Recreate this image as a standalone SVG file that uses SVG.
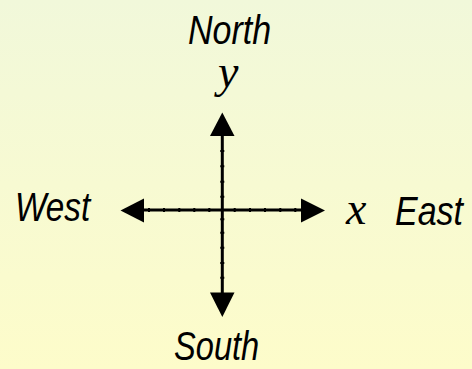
<svg xmlns="http://www.w3.org/2000/svg" width="472" height="369" viewBox="0 0 472 369">
<defs>
<linearGradient id="bg" x1="0" y1="0" x2="0" y2="1">
<stop offset="0" stop-color="#f1f8da"/>
<stop offset="1" stop-color="#fdfcca"/>
</linearGradient>
<style>
.lbl{font-family:"Liberation Sans",Arial,sans-serif;font-style:italic;font-size:34px;fill:#000}
.var{font-family:"Liberation Serif","Times New Roman",serif;font-style:italic;font-size:46px;fill:#000}
.axis{stroke:#000;stroke-width:3;fill:none}
.tick{stroke:#000;stroke-width:2;fill:none}
.head{fill:#000}
</style>
</defs>
<rect x="0" y="0" width="472" height="369" fill="url(#bg)"/>
<g id="connectors">
<line class="axis" x1="144" y1="210" x2="302" y2="210"/>
<line class="axis" x1="222.3" y1="135" x2="222.3" y2="293"/>
<path class="tick" d="M149 208v4M164 208v4M179.3 208v4M194.3 208v4M209.3 208v4M234.7 208v4M250 208v4M265 208v4M280.3 208v4M295.3 208v4"/>
<path class="tick" d="M220.3 151h4M220.3 166.3h4M220.3 181.7h4M220.3 196.7h4M220.3 219.3h4M220.3 232.7h4M220.3 247.7h4M220.3 263h4M220.3 277.7h4"/>
<polygon class="head" points="222.3,112.5 210,136 234.5,136"/>
<polygon class="head" points="222.3,317 210,292.5 234.5,292.5"/>
<polygon class="head" points="120.5,210.5 144,198.5 144,222.5"/>
<polygon class="head" points="325,210.5 301,198.5 301,222.5"/>
</g>
<g id="north" transform="translate(188,44) scale(1,1.176)"><text class="lbl" x="0" y="0">North</text></g>
<g id="y-label"><text class="var" x="218" y="87">y</text></g>
<g id="west" transform="translate(15,221) scale(0.98,1.176)"><text class="lbl" x="0" y="0">West</text></g>
<g id="x-label"><text class="var" x="346" y="224">x</text></g>
<g id="east" transform="translate(395,224.5) scale(1,1.176)"><text class="lbl" x="0" y="0">East</text></g>
<g id="south" transform="translate(174,360.3) scale(0.96,1.176)"><text class="lbl" x="0" y="0">South</text></g>
</svg>
